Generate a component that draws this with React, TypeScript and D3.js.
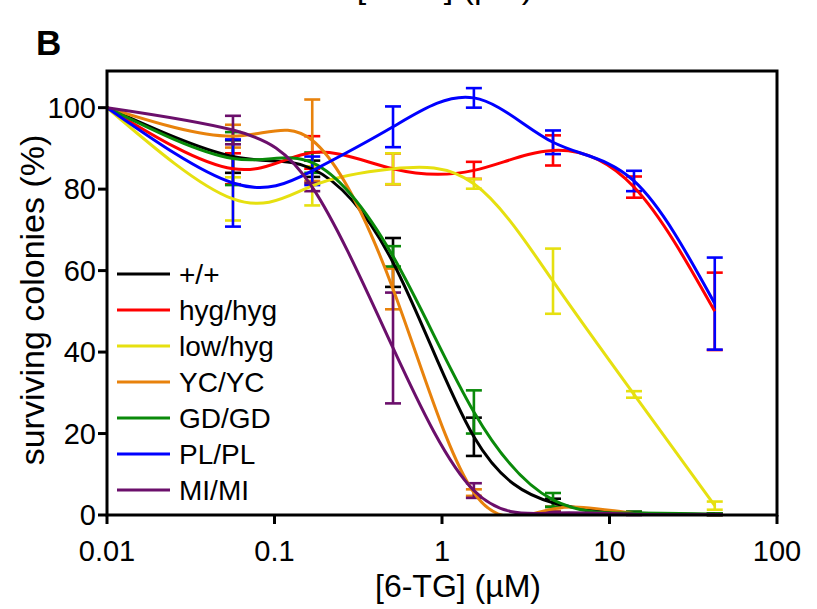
import React from 'react';
import * as d3 from 'd3';

// doses (µM), 3-fold dilutions after the control point
const doses = [0.01, 0.0565, 0.168, 0.51, 1.55, 4.6, 14, 42.5];

const seriesNames = ['+/+', 'hyg/hyg', 'low/hyg', 'YC/YC', 'GD/GD', 'PL/PL', 'MI/MI'];
const seriesColors = ['#000000', '#ff0000', '#e6e010', '#e8820c', '#0a8a0a', '#0000ff', '#6b0f6b'];

// mean surviving colonies (%) per dose
const wtMean = [100, 88, 85, 62, 19.2, 3, 0.5, 0.2];
const hygMean = [100, 85, 89, 85, 84.6, 89.5, 80.5, 50];
const lowMean = [100, 77.6, 80.8, 85, 81.3, 57.4, 29.6, 2.3];
const ycMean = [100, 93, 92, 55.5, 5.5, 1.5, 0.4, 0.1];
const gdMean = [100, 87.5, 86.5, 63.5, 25.3, 3.7, 0.5, 0.2];
const plMean = [100, 81.5, 84.5, 95.3, 102.4, 91.5, 82, 51.9];
const miMean = [100, 94.5, 80.5, 41, 6, 0.5, 0.2, 0.1];

// error bar half-widths
const wtErr = [0, 4, 2, 6, 4.7, 1, 0.3, 0.2];
const hygErr = [0, 3.8, 4, 3.8, 2.1, 3.7, 2.6, 9.5];
const lowErr = [0, 5.3, 4.8, 3.8, 1.2, 8, 0.8, 1];
const ycErr = [0, 2.8, 10, 5, 0.8, 0.5, 0.3, 0.1];
const gdErr = [0, 6.5, 2.5, 2.5, 5.3, 1.7, 0.3, 0.2];
const plErr = [0, 10.7, 3.5, 5, 2.4, 2.9, 2.5, 11.3];
const miErr = [0, 3.5, 1, 13.6, 1.8, 0.3, 0.2, 0.1];

const xTicks = [0.01, 0.1, 1, 10, 100];
const xTickLabels = ['0.01', '0.1', '1', '10', '100'];
const yTicks = [0, 20, 40, 60, 80, 100];

const means = [wtMean, hygMean, lowMean, ycMean, gdMean, plMean, miMean];
const errs = [wtErr, hygErr, lowErr, ycErr, gdErr, plErr, miErr];

const font = '"Liberation Sans", Arial, sans-serif';

const App = () => {
  const width = 817;
  const height = 609;
  const left = 107, right = 777, top = 71, bottom = 515;

  const x = d3.scaleLog().domain([0.01, 100]).range([left, right]);
  const y = d3.scaleLinear().domain([0, 109]).range([bottom, top]);

  const line = d3.line<number>()
    .x((_, i) => x(doses[i]))
    .y(d => y(d))
    .curve(d3.curveNatural);

  const capHalf = 8;

  return (
    <svg width={width} height={height} style={{ position: 'absolute', left: 0, top: 0, background: '#fff' }}
      fontFamily={font}>
      <defs>
        <clipPath id="plotArea">
          <rect x={left} y={top} width={right - left} height={bottom - top} />
        </clipPath>
      </defs>

      {/* bottom of the neighbouring panel's axis title, cut by the crop */}
      <text x={445} y={-2} fontSize={34} textAnchor="middle">[6-TG] (µM)</text>
      <text x={36} y={55} fontSize={35} fontWeight="bold">B</text>

      {/* error bars */}
      {means.map((m, s) => (
        <g key={'e' + s} stroke={seriesColors[s]} strokeWidth={2.6}>
          {m.map((v, i) => {
            if (errs[s][i] === 0) return null;
            const cx = x(doses[i]);
            const y1 = y(v + errs[s][i]);
            const y0 = y(v - errs[s][i]);
            return (
              <g key={i}>
                <line x1={cx} x2={cx} y1={y1} y2={y0} />
                <line x1={cx - capHalf} x2={cx + capHalf} y1={y1} y2={y1} />
                <line x1={cx - capHalf} x2={cx + capHalf} y1={y0} y2={y0} />
              </g>
            );
          })}
        </g>
      ))}

      {/* fitted curves */}
      <g clipPath="url(#plotArea)">
        {means.map((m, s) => (
          <path key={'l' + s} d={line(m) || ''} fill="none" stroke={seriesColors[s]} strokeWidth={3} />
        ))}
      </g>

      {/* frame */}
      <rect x={left} y={top} width={right - left} height={bottom - top} fill="none" stroke="#000" strokeWidth={3} />

      {/* x axis */}
      {xTicks.map((t, i) => (
        <g key={'x' + i}>
          <line x1={x(t)} x2={x(t)} y1={bottom} y2={bottom + 9} stroke="#000" strokeWidth={3} />
          <text x={x(t)} y={561} fontSize={29} textAnchor="middle">{xTickLabels[i]}</text>
        </g>
      ))}
      <text x={458} y={597} fontSize={32} textAnchor="middle">[6-TG] (µM)</text>

      {/* y axis */}
      {yTicks.map((t, i) => (
        <g key={'y' + i}>
          <line x1={left - 9} x2={left} y1={y(t)} y2={y(t)} stroke="#000" strokeWidth={3} />
          <text x={96} y={y(t) + 10} fontSize={29} textAnchor="end">{t}</text>
        </g>
      ))}
      <text transform={`translate(44,300) rotate(-90)`} fontSize={34} textAnchor="middle">
        surviving colonies (%)
      </text>

      {/* legend */}
      {seriesNames.map((n, i) => (
        <g key={'g' + i} transform={`translate(0,${274 + i * 36})`}>
          <line x1={117} x2={170} y1={0} y2={0} stroke={seriesColors[i]} strokeWidth={3} />
          <text x={179} y={10} fontSize={28}>{n}</text>
        </g>
      ))}
    </svg>
  );
};

export default App;
